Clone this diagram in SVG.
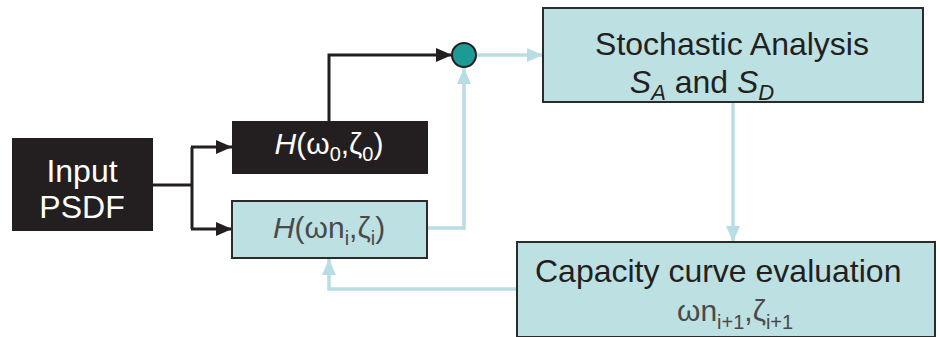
<svg xmlns="http://www.w3.org/2000/svg" width="940" height="337" viewBox="0 0 940 337">
<defs>
<style>
.t{font-family:"Liberation Sans",Arial,sans-serif;}
.dark{fill:#231f20;}
.light{fill:#bde0e3;stroke:#2b2b2b;stroke-width:2;}
.wt{fill:#ffffff;}
.bt{fill:#231f20;}
.gt{fill:#4a4a4a;}
.ck{fill:none;stroke:#231f20;stroke-width:3;}
.cb{fill:none;stroke:#b8dde2;stroke-width:3.5;}
</style>
<marker id="ak" markerUnits="userSpaceOnUse" markerWidth="16" markerHeight="16" viewBox="0 0 16 16" refX="16" refY="8" orient="auto"><path d="M0,1 L16,8 L0,15 Z" fill="#231f20"/></marker>
<marker id="ab" markerUnits="userSpaceOnUse" markerWidth="16" markerHeight="16" viewBox="0 0 16 16" refX="16" refY="8" orient="auto"><path d="M0,1 L16,8 L0,15 Z" fill="#b8dde2"/></marker>
</defs>
<rect width="940" height="337" fill="#ffffff"/>
<g id="connectors">
<path class="ck" d="M153,185 H192"/>
<path class="ck" d="M192,147 V229"/>
<path class="ck" d="M191,147 H232" marker-end="url(#ak)"/>
<path class="ck" d="M191,229 H232" marker-end="url(#ak)"/>
<path class="ck" d="M329,121 V55 H452" marker-end="url(#ak)"/>
<path class="cb" d="M476,55 H543" marker-end="url(#ab)"/>
<path class="cb" d="M428,228 H464 V68" marker-end="url(#ab)"/>
<path class="cb" d="M733,103 V242" marker-end="url(#ab)"/>
<path class="cb" d="M516,289 H329 V259" marker-end="url(#ab)"/>
</g>
<g id="input">
<rect class="dark" x="12" y="138" width="141" height="93"/>
<text class="t wt" x="82" y="182" font-size="32" text-anchor="middle">Input</text>
<text class="t wt" x="82" y="218" font-size="32" text-anchor="middle">PSDF</text>
</g>
<g id="h0">
<rect class="dark" x="232" y="121" width="196" height="53"/>
<text class="t wt" x="329" y="154" font-size="30" text-anchor="middle"><tspan font-style="italic">H</tspan>(ω<tspan font-size="20" dy="7">0</tspan><tspan dy="-7">,ζ</tspan><tspan font-size="20" dy="7">0</tspan><tspan dy="-7">)</tspan></text>
</g>
<g id="hi">
<rect class="light" x="232" y="201" width="195" height="57"/>
<text class="t gt" x="329" y="238" font-size="30" text-anchor="middle"><tspan font-style="italic">H</tspan>(ωn<tspan font-size="20" dy="7">i</tspan><tspan dy="-7">,ζ</tspan><tspan font-size="20" dy="7">i</tspan><tspan dy="-7">)</tspan></text>
</g>
<g id="sum">
<circle cx="464" cy="55" r="12" fill="#1e9a96" stroke="#231f20" stroke-width="2"/>
</g>
<g id="stochastic">
<rect class="light" x="543" y="8" width="380" height="94"/>
<text class="t bt" x="732" y="55" font-size="32" text-anchor="middle">Stochastic Analysis</text>
<text class="t bt" x="702" y="93" font-size="32" text-anchor="middle"><tspan font-style="italic">S</tspan><tspan font-style="italic" font-size="22" dy="7">A</tspan><tspan dy="-7"> and </tspan><tspan font-style="italic">S</tspan><tspan font-style="italic" font-size="22" dy="7">D</tspan></text>
</g>
<g id="capacity">
<rect class="light" x="517" y="242" width="418" height="95"/>
<text class="t bt" x="535" y="282" font-size="32">Capacity curve evaluation</text>
<text class="t gt" x="677" y="321" font-size="30"><tspan>ωn</tspan><tspan font-size="20" dy="8">i+1</tspan><tspan dy="-8">,ζ</tspan><tspan font-size="20" dy="8">i+1</tspan></text>
</g>
</svg>
